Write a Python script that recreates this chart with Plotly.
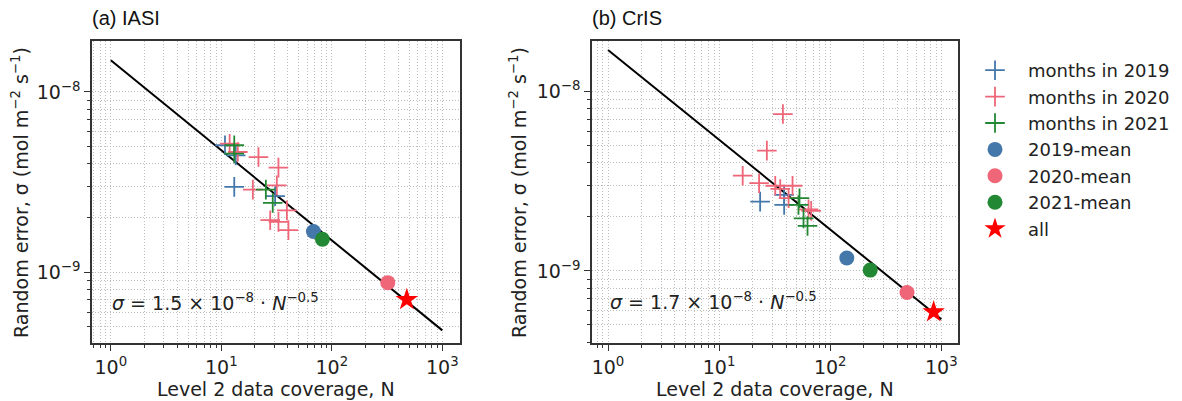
import numpy as np
import plotly.graph_objects as go

# ---------------- data ----------------
# (a) IASI
iasi_2019_N = [10.8, 13.1, 13.5, 30.7]
iasi_2019_s = [5.06e-9, 2.97e-9, 4.44e-9, 2.64e-9]
iasi_2020_N = [11.9, 14.1, 21.7, 32.9, 31.8, 19.3, 39.2, 27.7, 32.9, 40.5]
iasi_2020_s = [5.16e-9, 4.64e-9, 4.35e-9, 3.80e-9, 3.03e-9, 2.87e-9, 2.20e-9, 1.94e-9, 1.90e-9, 1.71e-9]
iasi_2021_N = [13.1, 13.1, 25.3, 29.2]
iasi_2021_s = [5.06e-9, 4.55e-9, 2.87e-9, 2.42e-9]
iasi_mean_N = [68.2, 321, 82.2]          # 2019, 2020, 2021
iasi_mean_s = [1.68e-9, 8.73e-10, 1.52e-9]
iasi_all_N = [477]
iasi_all_s = [7.03e-10]
iasi_coef = 1.5e-8

# (b) CrIS
cris_2019_N = [23.4, 38.5, 38.5]
cris_2019_s = [2.43e-9, 2.33e-9, 2.65e-9]
cris_2020_N = [37.5, 26.9, 16.3, 22.9, 32.0, 35.5, 45.8, 42.2, 67.4, 63.8]
cris_2020_s = [7.48e-9, 4.68e-9, 3.39e-9, 3.08e-9, 2.98e-9, 2.86e-9, 2.98e-9, 2.54e-9, 2.16e-9, 2.20e-9]
cris_2021_N = [52.9, 51.8, 57.5, 62.5]
cris_2021_s = [2.54e-9, 2.33e-9, 1.96e-9, 1.78e-9]
cris_mean_N = [141, 491, 229]
cris_mean_s = [1.18e-9, 7.57e-10, 1.01e-9]
cris_all_N = [853]
cris_all_s = [5.9e-10]
cris_coef = 1.7e-8

fit_N = np.array([1.0, 1000.0])
fit_exp = -0.5

x_tickvals = [1, 10, 100, 1000]
x_ticktext = ["10<sup>0</sup>", "10<sup>1</sup>", "10<sup>2</sup>", "10<sup>3</sup>"]
y_tickvals = [1e-9, 1e-8]
y_ticktext = ["10<sup>\u22129</sup>", "10<sup>\u22128</sup>"]

series_names = ["months in 2019", "months in 2020", "months in 2021",
                "2019-mean", "2020-mean", "2021-mean", "all"]

# ---------------- style ----------------
C_BLUE = "#4477AA"
C_PINK = "#EE6677"
C_GREEN = "#228833"
C_RED = "#FF0000"
FONT = "DejaVu Sans"

# page has an 8px body margin; map page pixels to paper coordinates
OFF = 8
W, H = 1182 - OFF, 401 - OFF
def px(x):
    return (x - OFF) / W
def py(y):
    return 1 - (y - OFF) / H

fig = go.Figure()

def add_panel(xa, ya, d, show):
    N19, s19, N20, s20, N21, s21, mN, ms, aN, as_, coef = d
    fig.add_trace(go.Scatter(x=fit_N, y=coef * fit_N ** fit_exp, mode="lines",
                             line=dict(color="black", width=2), showlegend=False,
                             xaxis=xa, yaxis=ya, hoverinfo="skip"))
    for N, s, c, nm in [(N19, s19, C_BLUE, series_names[0]),
                        (N20, s20, C_PINK, series_names[1]),
                        (N21, s21, C_GREEN, series_names[2])]:
        fig.add_trace(go.Scatter(x=N, y=s, mode="markers", name=nm, legendgroup=nm,
                                 showlegend=show, xaxis=xa, yaxis=ya,
                                 marker=dict(symbol="cross-thin", size=14, color=c,
                                             line=dict(color=c, width=1.8))))
    for i, (c, nm) in enumerate([(C_BLUE, series_names[3]), (C_PINK, series_names[4]),
                                 (C_GREEN, series_names[5])]):
        fig.add_trace(go.Scatter(x=[mN[i]], y=[ms[i]], mode="markers", name=nm,
                                 legendgroup=nm, showlegend=show, xaxis=xa, yaxis=ya,
                                 marker=dict(symbol="circle", size=15, color=c)))
    fig.add_trace(go.Scatter(x=aN, y=as_, mode="markers", name=series_names[6],
                             legendgroup=series_names[6], showlegend=show,
                             xaxis=xa, yaxis=ya,
                             marker=dict(symbol="star", size=17, color=C_RED,
                                         line=dict(width=0))))

add_panel("x", "y", (iasi_2019_N, iasi_2019_s, iasi_2020_N, iasi_2020_s,
                     iasi_2021_N, iasi_2021_s, iasi_mean_N, iasi_mean_s,
                     iasi_all_N, iasi_all_s, iasi_coef), True)
add_panel("x2", "y2", (cris_2019_N, cris_2019_s, cris_2020_N, cris_2020_s,
                       cris_2021_N, cris_2021_s, cris_mean_N, cris_mean_s,
                       cris_all_N, cris_all_s, cris_coef), False)

x_minor = [k * 10 ** d for d in range(-1, 4) for k in range(2, 10)]
y_minor = [k * 10.0 ** d for d in range(-11, -7) for k in range(2, 10)]

grid = dict(gridcolor="#bdbdbd", griddash="1px,2px", gridwidth=1)
axis_common = dict(type="log", showline=True, mirror=True, linecolor="#333333",
                   linewidth=1.5, ticks="outside", ticklen=6, tickwidth=1.2,
                   tickcolor="#333333", showgrid=True, zeroline=False,
                   tickfont=dict(family=FONT, size=19, color="#222222"),
                   tickmode="array", **grid)

xa = dict(axis_common, tickvals=x_tickvals, ticktext=x_ticktext,
          minor=dict(tickmode="array", tickvals=x_minor, ticks="outside", ticklen=3.5,
                     tickcolor="#333333", showgrid=True, **grid))
ya = dict(axis_common, tickvals=y_tickvals, ticktext=y_ticktext,
          minor=dict(tickmode="array", tickvals=y_minor, ticks="outside", ticklen=3.5,
                     tickcolor="#333333", showgrid=True, **grid))

ydom = [py(343), py(41)]
fig.update_layout(
    width=W, height=H,
    margin=dict(l=0, r=0, t=0, b=0),
    paper_bgcolor="white", plot_bgcolor="white",
    xaxis=dict(xa, domain=[px(92), px(460)], anchor="y", range=[-0.17, 3.16]),
    yaxis=dict(ya, domain=ydom, anchor="x", range=[-9.394, -7.717]),
    xaxis2=dict(xa, domain=[px(592), px(958)], anchor="y2", range=[-0.144, 3.15]),
    yaxis2=dict(ya, domain=ydom, anchor="x2", range=[-9.402, -7.719]),
    legend=dict(x=px(962), y=py(52), xanchor="left", yanchor="top",
                font=dict(family=FONT, size=18, color="#222222"),
                tracegroupgap=0, bgcolor="rgba(0,0,0,0)", itemwidth=56),
    showlegend=True,
)

ytitle = "Random error, \u03c3 (mol m<sup>\u22122</sup> s<sup>\u22121</sup>)"
xtitle = "Level 2 data coverage, N"
tfont = dict(family=FONT, size=19, color="#222222")
ann = [
    dict(text=ytitle, x=px(20), y=py(193), textangle=-90, font=tfont),
    dict(text=ytitle, x=px(518), y=py(193), textangle=-90, font=tfont),
    dict(text=xtitle, x=px(276), y=py(389), font=tfont),
    dict(text=xtitle, x=px(775), y=py(389), font=tfont),
    dict(text="(a) IASI", x=px(90), y=py(18), xanchor="left",
         font=dict(family="Liberation Sans", size=20, color="#111111")),
    dict(text="(b) CrIS", x=px(590), y=py(18), xanchor="left",
         font=dict(family="Liberation Sans", size=20, color="#111111")),
    dict(text="<i>\u03c3</i> = 1.5 \u00d7 10<sup>\u22128</sup> \u00b7 <i>N</i><sup>\u22120.5</sup>",
         x=px(110), y=py(302), xanchor="left", font=tfont),
    dict(text="<i>\u03c3</i> = 1.7 \u00d7 10<sup>\u22128</sup> \u00b7 <i>N</i><sup>\u22120.5</sup>",
         x=px(608), y=py(301), xanchor="left", font=tfont),
]
for a in ann:
    a.setdefault("xanchor", "center")
    a.update(xref="paper", yref="paper", showarrow=False, yanchor="middle")
    fig.add_annotation(**a)

fig.write_html("out.html")
